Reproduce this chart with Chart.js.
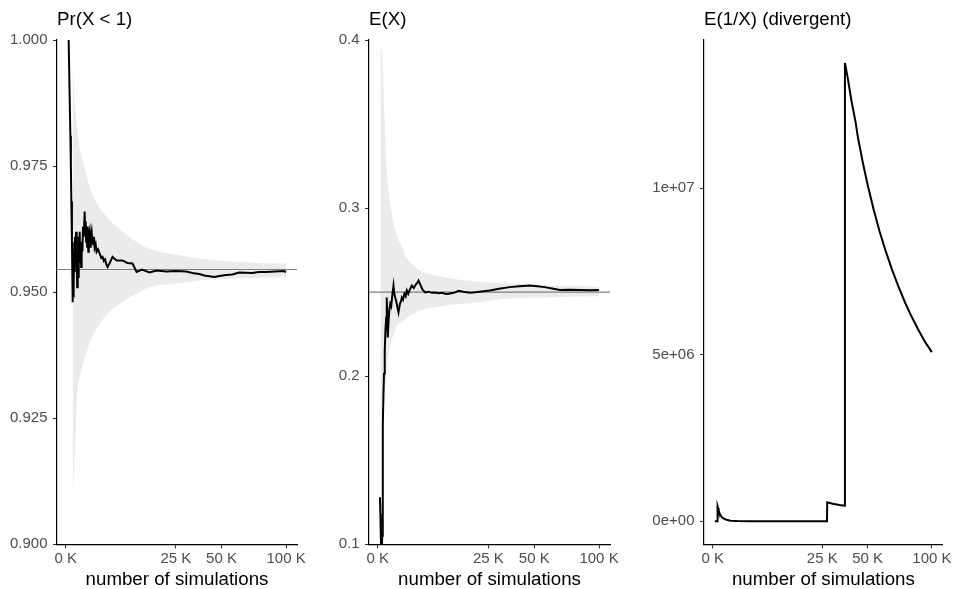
<!DOCTYPE html>
<html>
<head>
<meta charset="utf-8">
<title>Running estimates</title>
<script src="https://cdn.jsdelivr.net/npm/chart.js@4/dist/chart.umd.min.js"></script>
<style>
  html, body { margin: 0; padding: 0; background: #ffffff; overflow: hidden; }
  .panel { position: absolute; top: 0; height: 589px; }
</style>
</head>
<body>
<div class="panel" style="left:0px;width:309px"><canvas id="probChart"></canvas></div>
<div class="panel" style="left:312px;width:310px"><canvas id="meanChart"></canvas></div>
<div class="panel" style="left:647px;width:307px"><canvas id="invChart"></canvas></div>
<script>
// x axis: number of simulations, shown on a square-root scale
const xTicks = [0, 25000, 50000, 100000];
const xTickLabels = ['0 K', '25 K', '50 K', '100 K'];

// Pr(X < 1)
const probTrue = 0.9545;
const probN = [10, 18, 30, 45, 55, 65, 80, 100, 110, 120, 130, 140, 152, 166, 180, 200, 220, 248, 270, 300,
  325, 350, 375, 401, 430, 460, 490, 524, 570, 620, 680, 739, 780, 820, 860, 903, 950, 1000, 1050, 1100, 1179,
  1240, 1300, 1384, 1460, 1550, 1640, 1721, 1850, 1967, 2150, 2366, 2600, 2800, 3000, 3200, 3400, 3610, 4000,
  4520, 5323, 6650, 7800, 9190, 10320, 12000, 14440, 16950, 20880, 25000, 29970, 33000, 36750, 39550, 45440,
  48540, 53000, 57080, 61970, 71570, 77030, 82690, 90000, 98150, 100000];
const probEst = [1.000, 1.000, 0.990, 0.981, 0.975, 0.968, 0.960, 0.948, 0.955, 0.949, 0.958, 0.951, 0.960,
  0.954, 0.961, 0.955, 0.962, 0.957, 0.951, 0.958, 0.953, 0.961, 0.956, 0.962, 0.957, 0.959, 0.955, 0.960,
  0.958, 0.963, 0.961, 0.966, 0.962, 0.964, 0.960, 0.962, 0.959, 0.963, 0.958, 0.961, 0.962, 0.959, 0.961,
  0.962, 0.960, 0.9595, 0.961, 0.9588, 0.9595, 0.958, 0.9585, 0.9577, 0.9568, 0.957, 0.9562, 0.9565, 0.9555,
  0.955, 0.9558, 0.957, 0.9563, 0.9563, 0.9558, 0.9557, 0.954, 0.9545, 0.9539, 0.9543, 0.9541, 0.9542, 0.9541,
  0.9538, 0.9536, 0.9533, 0.9530, 0.9532, 0.9534, 0.9535, 0.9539, 0.9538, 0.9540, 0.9540, 0.9541, 0.9542,
  0.9540];
const probBandN = [100, 130, 166, 220, 280, 401, 550, 739, 950, 1179, 1700, 2366, 3610, 5323, 9190, 14440,
  25000, 36750, 69000, 100000];
const probBandHigh = [0.996, 0.992, 0.988, 0.985, 0.982, 0.9787, 0.9765, 0.9747, 0.9725, 0.9708, 0.9685,
  0.9668, 0.9647, 0.963, 0.9605, 0.9586, 0.9574, 0.9567, 0.9559, 0.9557];
const probBandLow = [0.910, 0.913, 0.917, 0.924, 0.9304, 0.933, 0.935, 0.937, 0.9385, 0.940, 0.942, 0.9437,
  0.9458, 0.9473, 0.9493, 0.951, 0.9517, 0.9523, 0.9528, 0.953];
const probTicks = [0.9, 0.925, 0.95, 0.975, 1.0];
const probTickLabels = ['0.900', '0.925', '0.950', '0.975', '1.000'];

// E(X)
const meanTrue = 0.25;
const meanN = [10, 14, 18, 24, 32, 40, 48, 56, 67, 80, 100, 120, 145, 166, 185, 205, 240, 280, 316, 370, 430,
  506, 560, 621, 700, 790, 880, 1000, 1100, 1182, 1300, 1450, 1600, 1726, 1900, 2100, 2373, 2650, 2950, 3200,
  3398, 3700, 4100, 4612, 5300, 6000, 6762, 7600, 8500, 9400, 10260, 11800, 13370, 15000, 17300, 19470,
  22000, 25610, 30000, 35600, 41000, 47220, 52000, 57030, 62000, 67760, 75000, 83480, 92000, 100000];
const meanEst = [0.128, 0.118, 0.108, 0.095, 0.090, 0.105, 0.140, 0.170, 0.190, 0.2014, 0.215, 0.227, 0.235,
  0.2468, 0.235, 0.223, 0.233, 0.240, 0.243, 0.2415, 0.248, 0.2539, 0.249, 0.2468, 0.2445, 0.241, 0.238,
  0.243, 0.2445, 0.2468, 0.2455, 0.249, 0.2475, 0.251, 0.249, 0.2515, 0.2539, 0.2525, 0.2545, 0.2555, 0.2569,
  0.2545, 0.2515, 0.2499, 0.2503, 0.2496, 0.2498, 0.2493, 0.2496, 0.2489, 0.249, 0.2496, 0.2508, 0.2502,
  0.2497, 0.2499, 0.2504, 0.251, 0.252, 0.253, 0.2535, 0.2539, 0.2535, 0.2530, 0.2522, 0.2513, 0.2515,
  0.2513, 0.2511, 0.2513];
const meanBandN = [15, 45, 70, 92, 145, 205, 281, 450, 695, 820, 1182, 1656, 2500, 3484, 6000, 11300, 20820,
  31910, 41210, 70000, 100000];
const meanBandHigh = [0.396, 0.390, 0.370, 0.354, 0.328, 0.315, 0.305, 0.294, 0.285, 0.282, 0.277, 0.2706,
  0.2665, 0.263, 0.2605, 0.258, 0.2562, 0.2553, 0.2549, 0.2538, 0.2532];
const meanBandLow = [0.170, 0.175, 0.180, 0.1855, 0.198, 0.210, 0.216, 0.223, 0.229, 0.2312, 0.232, 0.2345,
  0.237, 0.239, 0.2408, 0.2425, 0.244, 0.246, 0.2465, 0.2472, 0.2475];
const meanTicks = [0.1, 0.2, 0.3, 0.4];
const meanTickLabels = ['0.1', '0.2', '0.3', '0.4'];

// E(1/X), which diverges
const invN = [10, 25, 40, 50, 60, 75, 100, 131, 180, 261, 400, 663, 1240, 3000, 10000, 27200, 27300, 30000,
  33500, 36300, 36400, 38000, 40000, 42440, 44000, 47000, 50000, 54000, 58000, 62000, 67000, 72000, 77000,
  82000, 88000, 94000, 100000];
const invEst = [0, 0, 0, 450000, 400000, 320000, 240000, 180000, 120000, 80000, 45000, 20000, 10000, 5000,
  3000, 2000, 570000, 530000, 490000, 470000, 13760000, 13300000, 12650000, 12000000, 11500000, 10750000,
  10100000, 9350000, 8700000, 8150000, 7550000, 7030000, 6570000, 6170000, 5750000, 5380000, 5080000];
const invTicks = [0, 5000000, 10000000];
const invTickLabels = ['0e+00', '5e+06', '1e+07'];

const X_MIN = -12.5;
const X_MAX = 331.9;
const FONT = '"Liberation Sans", Arial, sans-serif';

function toPoints(ns, vals) {
    return ns.map((n, i) => ({ x: Math.sqrt(n), y: vals[i] }));
}

function flatLine(v) {
    return [{ x: X_MIN, y: v }, { x: X_MAX, y: v }];
}

function lineSet(data, color, width) {
    return {
        data: data,
        borderColor: color,
        borderWidth: width,
        pointRadius: 0,
        tension: 0,
        fill: false
    };
}

function bandSets(ns, low, high) {
    return [{
        data: toPoints(ns, high),
        borderColor: 'rgba(0,0,0,0)',
        backgroundColor: 'rgb(235, 235, 235)',
        pointRadius: 0,
        cubicInterpolationMode: 'monotone',
        fill: '+1'
    }, {
        data: toPoints(ns, low),
        borderColor: 'rgba(0,0,0,0)',
        pointRadius: 0,
        cubicInterpolationMode: 'monotone',
        fill: false
    }];
}

function makeChart(id, title, datasets, yMin, yMax, yTicks, yLabels, rightPad) {
    const ctx = document.getElementById(id).getContext('2d');
    return new Chart(ctx, {
        type: 'line',
        data: { datasets: datasets },
        options: {
            responsive: true,
            maintainAspectRatio: false,
            animation: false,
            events: [],
            layout: { padding: { left: 0, right: rightPad, top: 0, bottom: 0 } },
            plugins: {
                legend: { display: false },
                tooltip: { enabled: false },
                title: {
                    display: true,
                    text: title,
                    align: 'start',
                    fullSize: false,
                    color: '#000000',
                    font: { family: FONT, size: 18.7, weight: 'normal' },
                    padding: { top: 9, bottom: 8.6 }
                }
            },
            scales: {
                x: {
                    type: 'linear',
                    min: X_MIN,
                    max: X_MAX,
                    afterBuildTicks: (scale) => {
                        scale.ticks = xTicks.map(v => ({ value: Math.sqrt(v) }));
                    },
                    ticks: {
                        autoSkip: false,
                        maxRotation: 0,
                        padding: 2,
                        color: '#4d4d4d',
                        font: { family: FONT, size: 15 },
                        callback: (value, index) => xTickLabels[index]
                    },
                    grid: {
                        display: true,
                        drawOnChartArea: false,
                        drawTicks: true,
                        tickLength: 4,
                        tickColor: '#333333',
                        tickWidth: 1.1
                    },
                    border: { display: true, color: '#000000', width: 1.2 },
                    title: {
                        display: true,
                        text: 'number of simulations',
                        color: '#000000',
                        font: { family: FONT, size: 18.7, lineHeight: 1.0 },
                        padding: { top: 0, bottom: 0 }
                    }
                },
                y: {
                    type: 'linear',
                    min: yMin,
                    max: yMax,
                    afterBuildTicks: (scale) => {
                        scale.ticks = yTicks.map(v => ({ value: v }));
                    },
                    afterFit: (scale) => {
                        scale.width = 57;
                    },
                    ticks: {
                        autoSkip: false,
                        padding: 5.5,
                        color: '#4d4d4d',
                        font: { family: FONT, size: 15 },
                        callback: (value, index) => yLabels[index]
                    },
                    grid: {
                        display: true,
                        drawOnChartArea: false,
                        drawTicks: true,
                        tickLength: 4,
                        tickColor: '#333333',
                        tickWidth: 1.1
                    },
                    border: { display: true, color: '#000000', width: 1.2 }
                }
            }
        }
    });
}

makeChart('probChart', 'Pr(X < 1)', [
    lineSet(toPoints(probN, probEst), '#000000', 2),
    lineSet(flatLine(probTrue), '#7f7f7f', 1.2),
    ...bandSets(probBandN, probBandLow, probBandHigh)
], 0.9, 1.0, probTicks, probTickLabels, 12);

makeChart('meanChart', 'E(X)', [
    lineSet(toPoints(meanN, meanEst), '#000000', 2),
    lineSet(flatLine(meanTrue), '#7f7f7f', 1.2),
    ...bandSets(meanBandN, meanBandLow, meanBandHigh)
], 0.1, 0.4, meanTicks, meanTickLabels, 12);

makeChart('invChart', 'E(1/X) (divergent)', [
    lineSet(toPoints(invN, invEst), '#000000', 2)
], -690000, 14450000, invTicks, invTickLabels, 10);
</script>
</body>
</html>
